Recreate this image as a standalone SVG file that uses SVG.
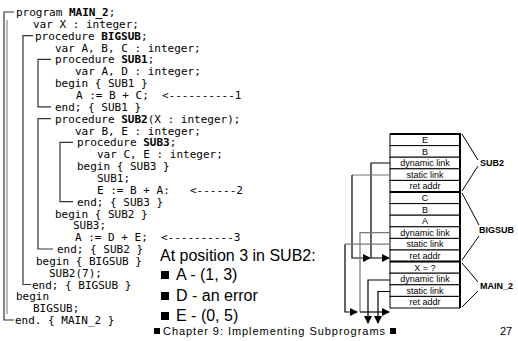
<svg xmlns="http://www.w3.org/2000/svg" width="518" height="341" viewBox="0 0 518 341">
<style>
.code{font-family:"DejaVu Sans Mono","Liberation Mono",monospace;font-size:11px;fill:#000}
.b{font-weight:bold}
.br{fill:none;stroke:#333;stroke-width:1.2}
.big{font-family:"Liberation Sans",Arial,sans-serif;font-size:16px;fill:#000}
.foot{font-family:"Liberation Sans",Arial,sans-serif;font-size:11px;fill:#000}
.cell{fill:#fff;stroke:#000;stroke-width:1}
.ct{font-family:"Liberation Sans",Arial,sans-serif;font-size:9px;fill:#000;text-anchor:middle}
.lab{font-family:"Liberation Sans",Arial,sans-serif;font-size:9px;font-weight:bold;fill:#000}
.bk{fill:none;stroke:#000;stroke-width:1}
.lk{fill:none;stroke:#000;stroke-width:1.2}
.gl{fill:none;stroke:#777;stroke-width:1.2}
</style>
<defs>
<marker id="ah" markerWidth="8" markerHeight="8" refX="7" refY="4" orient="auto" markerUnits="userSpaceOnUse">
<path d="M0,0 L8,4 L0,8 Z" fill="#000"/>
</marker>
</defs>
<rect width="518" height="341" fill="#fff"/>

<g id="code">
<text class="code" x="16" y="16">program <tspan class="b">MAIN_2</tspan>;</text>
<text class="code" x="33" y="27.9">var X : integer;</text>
<text class="code" x="35" y="39.7">procedure <tspan class="b">BIGSUB</tspan>;</text>
<text class="code" x="55" y="51.6">var A, B, C : integer;</text>
<text class="code" x="55" y="63.4">procedure <tspan class="b">SUB1</tspan>;</text>
<text class="code" x="75" y="75.3">var A, D : integer;</text>
<text class="code" x="55" y="87.1">begin { SUB1 }</text>
<text class="code" x="76" y="99">A := B + C;</text>
<text class="code" x="162" y="99">&lt;----------1</text>
<text class="code" x="55" y="110.8">end;  { SUB1 }</text>
<text class="code" x="55" y="122.7">procedure <tspan class="b">SUB2</tspan>(X : integer);</text>
<text class="code" x="75" y="134.5">var B, E : integer;</text>
<text class="code" x="77" y="146.4">procedure <tspan class="b">SUB3</tspan>;</text>
<text class="code" x="97" y="158.2">var C, E : integer;</text>
<text class="code" x="77" y="170.1">begin { SUB3 }</text>
<text class="code" x="97" y="181.9">SUB1;</text>
<text class="code" x="97" y="193.8">E := B + A:</text>
<text class="code" x="190" y="193.8">&lt;------2</text>
<text class="code" x="77" y="205.6">end; { SUB3 }</text>
<text class="code" x="55" y="217.5">begin { SUB2 }</text>
<text class="code" x="73" y="229.3">SUB3;</text>
<text class="code" x="75" y="241.2">A := D + E;</text>
<text class="code" x="161" y="241.2">&lt;----------3</text>
<text class="code" x="57" y="253">end; { SUB2 }</text>
<text class="code" x="36" y="264.9">begin { BIGSUB }</text>
<text class="code" x="49" y="276.7">SUB2(7);</text>
<text class="code" x="32" y="288.6">end; { BIGSUB }</text>
<text class="code" x="16" y="300.4">begin</text>
<text class="code" x="33" y="312.3">BIGSUB;</text>
<text class="code" x="15" y="324.1">end. { MAIN_2 }</text>
</g>

<g id="brackets">
<path class="br" d="M14,12 H4 V320 H14"/>
<path d="M7,20 V314" stroke="#888" stroke-width="1.2" fill="none"/>
<path class="br" d="M33,35.7 H23 V284.5 H31"/>
<path class="br" d="M51,59.4 H38 V106.8 H51"/>
<path class="br" d="M51,118.6 H38 V249 H53"/>
<path class="br" d="M73,142.3 H60 V201.6 H73"/>
</g>

<g id="question">
<text class="big" x="160" y="261">At position 3 in SUB2:</text>
<rect x="161" y="271" width="8" height="8" fill="#000"/>
<text class="big" x="176" y="280">A - (1, 3)</text>
<rect x="161" y="292" width="8" height="8" fill="#000"/>
<text class="big" x="176" y="301">D - an error</text>
<rect x="161" y="312" width="8" height="8" fill="#000"/>
<text class="big" x="176" y="321">E - (0, 5)</text>
</g>

<g id="footer">
<rect x="154" y="328" width="6" height="6" fill="#000"/>
<text class="foot" x="163" y="335" textLength="222" lengthAdjust="spacing">Chapter 9: Implementing Subprograms</text>
<rect x="390" y="328" width="6" height="6" fill="#000"/>
<text class="foot" x="500" y="335">27</text>
</g>

<g id="stack">
<rect class="cell" x="390" y="134" width="70" height="11.6"/>
<rect class="cell" x="390" y="145.6" width="70" height="11.6"/>
<rect class="cell" x="390" y="157.2" width="70" height="11.6"/>
<rect class="cell" x="390" y="168.8" width="70" height="11.6"/>
<rect class="cell" x="390" y="180.4" width="70" height="11.6"/>
<rect class="cell" x="390" y="192" width="70" height="11.6"/>
<rect class="cell" x="390" y="203.6" width="70" height="11.6"/>
<rect class="cell" x="390" y="215.2" width="70" height="11.6"/>
<rect class="cell" x="390" y="226.8" width="70" height="11.6"/>
<rect class="cell" x="390" y="238.4" width="70" height="11.6"/>
<rect class="cell" x="390" y="250" width="70" height="11.6"/>
<rect class="cell" x="390" y="261.6" width="70" height="11.6"/>
<rect class="cell" x="390" y="273.2" width="70" height="11.6"/>
<rect class="cell" x="390" y="284.8" width="70" height="11.6"/>
<rect class="cell" x="390" y="296.4" width="70" height="11.6"/>
<path d="M390,134 H461 M390,192 H461 M390,261.6 H461 M460,134 V308" stroke="#000" stroke-width="2" fill="none"/>
<text class="ct" x="425" y="143">E</text>
<text class="ct" x="425" y="154.6">B</text>
<text class="ct" x="425" y="166.2">dynamic link</text>
<text class="ct" x="425" y="177.8">static link</text>
<text class="ct" x="425" y="189.4">ret addr</text>
<text class="ct" x="425" y="201">C</text>
<text class="ct" x="425" y="212.6">B</text>
<text class="ct" x="425" y="224.2">A</text>
<text class="ct" x="425" y="235.8">dynamic link</text>
<text class="ct" x="425" y="247.4">static link</text>
<text class="ct" x="425" y="259">ret addr</text>
<text class="ct" x="425" y="270.6">X = ?</text>
<text class="ct" x="425" y="282.2">dynamic link</text>
<text class="ct" x="425" y="293.8">static link</text>
<text class="ct" x="425" y="305.4">ret addr</text>
</g>

<g id="frames">
<path class="bk" d="M462,134 L478,160 M462,191 L478,166"/>
<text class="lab" x="480" y="166">SUB2</text>
<path class="bk" d="M462,193 L479,225 M462,260 L479,236"/>
<text class="lab" x="479" y="233">BIGSUB</text>
<path class="bk" d="M462,263 L478,282 M462,307 L478,291"/>
<text class="lab" x="480" y="289">MAIN_2</text>
</g>

<g id="connectors">
<path class="lk" d="M390,163 H371 V258 H389" marker-end="url(#ah)"/>
<path class="gl" d="M390,175 H352"/>
<path class="lk" d="M352,175 V258 H370" marker-end="url(#ah)"/>
<path class="gl" d="M390,232.6 H360 V312"/>
<path class="lk" d="M360,312 H389" marker-end="url(#ah)"/>
<path class="gl" d="M390,244.2 H345"/>
<path class="lk" d="M345,244.2 V312 H357" marker-end="url(#ah)"/>
<path class="lk" d="M390,280 H368 V323" marker-end="url(#ah)"/>
<path class="lk" d="M390,291.5 H378 V323" marker-end="url(#ah)"/>
</g>
</svg>
